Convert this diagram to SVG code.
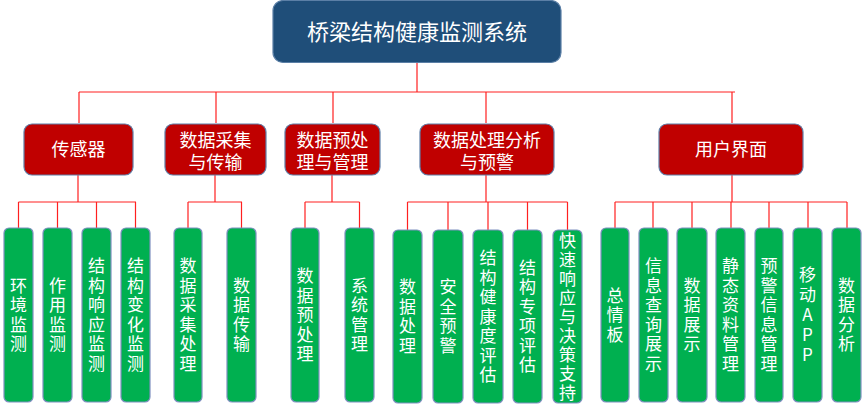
<svg xmlns="http://www.w3.org/2000/svg" width="865" height="414" viewBox="0 0 865 414">
<style>
.top{fill:#1F4E79;stroke:#5B7FA6;stroke-width:1.2}
.l2{fill:#C00000;stroke:#5F7FA8;stroke-width:1.2}
.l3{fill:#00B050;stroke:#7F90C0;stroke-width:1.2}
.t{font-family:"Noto Sans CJK SC","Microsoft YaHei",sans-serif;fill:#FFFFFF;text-anchor:middle}
.t1{font-size:22px}
.t2{font-size:18px}
.t3{font-size:17px;writing-mode:vertical-rl;text-orientation:upright;letter-spacing:2.5px}
.c{fill:none;stroke:#FF2020;stroke-width:1.2}
</style>
<rect width="865" height="414" fill="#FFFFFF"/>
<g id="connectors">
<path class="c" d="M417 62V92M79 92H735M79 92V123M216 92V123M333 92V123M486 92V123M732 92V123"/>
<path class="c" d="M78 175V202M18.5 202H136M18.5 202V228M57.5 202V228M96.5 202V228M135.5 202V228"/>
<path class="c" d="M215 175V202M188 202H242M188 202V228M241.5 202V228"/>
<path class="c" d="M332 175V202M305 202H359.5M305 202V228M359.5 202V228"/>
<path class="c" d="M486 175V202M407.5 202H567.5M407.5 202V230M448 202V230M488 202V230M527.5 202V230M567.5 202V230"/>
<path class="c" d="M732 175V202M615 202H847M615 202V228M653 202V228M692 202V228M731 202V228M769 202V228M808 202V228M847 202V228"/>
</g>
<g id="root">
<rect class="top" x="273" y="0.5" width="288" height="62" rx="10"/>
<text class="t t1" x="417" y="40">桥梁结构健康监测系统</text>
</g>
<g id="n-sensor">
<rect class="l2" x="24" y="124" width="109" height="51" rx="8"/>
<text class="t t2" x="78.5" y="156">传感器</text>
</g>
<g id="n-acq">
<rect class="l2" x="165" y="124" width="101" height="51" rx="8"/>
<text class="t t2" x="215.5" y="146.5">数据采集<tspan x="215.5" dy="22">与传输</tspan></text>
</g>
<g id="n-pre">
<rect class="l2" x="285" y="124" width="95" height="51" rx="8"/>
<text class="t t2" x="332.5" y="146.5">数据预处<tspan x="332.5" dy="22">理与管理</tspan></text>
</g>
<g id="n-ana">
<rect class="l2" x="420" y="124" width="134" height="51" rx="8"/>
<text class="t t2" x="487" y="146.5">数据处理分析<tspan x="487" dy="22">与预警</tspan></text>
</g>
<g id="n-ui">
<rect class="l2" x="659" y="124" width="144" height="51" rx="8"/>
<text class="t t2" x="731" y="156">用户界面</text>
</g>
<g id="s1"><rect class="l3" x="4" y="228" width="29" height="174" rx="5"/><text class="t t3" x="18.5" y="316">环境监测</text></g>
<g id="s2"><rect class="l3" x="43" y="228" width="29" height="174" rx="5"/><text class="t t3" x="57.5" y="316">作用监测</text></g>
<g id="s3"><rect class="l3" x="82" y="228" width="29" height="174" rx="5"/><text class="t t3" x="96.5" y="316">结构响应监测</text></g>
<g id="s4"><rect class="l3" x="121" y="228" width="29" height="174" rx="5"/><text class="t t3" x="135.5" y="316">结构变化监测</text></g>
<g id="a1"><rect class="l3" x="174" y="228" width="28" height="174" rx="5"/><text class="t t3" x="188" y="316">数据采集处理</text></g>
<g id="a2"><rect class="l3" x="227" y="228" width="29" height="174" rx="5"/><text class="t t3" x="241.5" y="316">数据传输</text></g>
<g id="p1"><rect class="l3" x="291" y="228" width="28" height="174" rx="5"/><text class="t t3" x="305" y="316">数据预处理</text></g>
<g id="p2"><rect class="l3" x="345" y="228" width="29" height="174" rx="5"/><text class="t t3" x="359.5" y="316">系统管理</text></g>
<g id="d1"><rect class="l3" x="393" y="230" width="29" height="173" rx="5"/><text class="t t3" x="407.5" y="317.5">数据处理</text></g>
<g id="d2"><rect class="l3" x="433" y="230" width="30" height="173" rx="5"/><text class="t t3" x="448" y="317.5">安全预警</text></g>
<g id="d3"><rect class="l3" x="473" y="230" width="30" height="173" rx="5"/><text class="t t3" x="488" y="317.5">结构健康度评估</text></g>
<g id="d4"><rect class="l3" x="513" y="230" width="29" height="173" rx="5"/><text class="t t3" x="527.5" y="317.5">结构专项评估</text></g>
<g id="d5"><rect class="l3" x="553" y="230" width="29" height="173" rx="5"/><text class="t t3" x="567.5" y="317.5" style="letter-spacing:2px">快速响应与决策支持</text></g>
<g id="u1"><rect class="l3" x="601" y="228" width="28" height="174" rx="5"/><text class="t t3" x="615" y="316">总情板</text></g>
<g id="u2"><rect class="l3" x="639" y="228" width="29" height="174" rx="5"/><text class="t t3" x="653.5" y="316">信息查询展示</text></g>
<g id="u3"><rect class="l3" x="677" y="228" width="30" height="174" rx="5"/><text class="t t3" x="692" y="316">数据展示</text></g>
<g id="u4"><rect class="l3" x="716" y="228" width="29" height="174" rx="5"/><text class="t t3" x="730.5" y="316">静态资料管理</text></g>
<g id="u5"><rect class="l3" x="755" y="228" width="28" height="174" rx="5"/><text class="t t3" x="769" y="316">预警信息管理</text></g>
<g id="u6"><rect class="l3" x="793" y="228" width="29" height="174" rx="5"/><text class="t t3" x="807.5" y="316" style="letter-spacing:3px">移动APP</text></g>
<g id="u7"><rect class="l3" x="832" y="228" width="29" height="174" rx="5"/><text class="t t3" x="846.5" y="316">数据分析</text></g>
</svg>
